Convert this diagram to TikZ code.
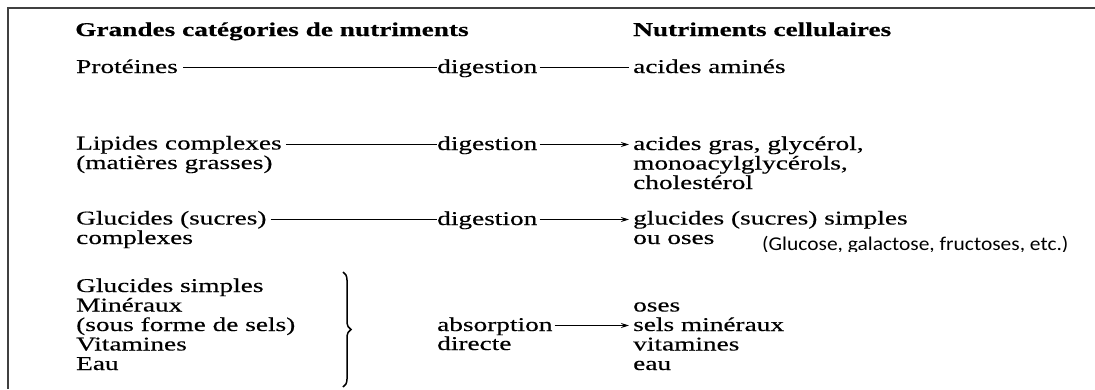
\documentclass[tikz,border=0pt]{standalone}
\usepackage{fontspec}
\setmainfont[FakeStretch=1.4, FakeBold=0.4]{Liberation Serif}
\newfontfamily\notefont[FakeStretch=1.1]{Carlito}
\usetikzlibrary{arrows.meta,decorations.pathreplacing}
\tikzset{
  txt/.style={inner sep=0pt, anchor=base west, align=left,
    font=\fontsize{19.5}{19.5}\selectfont},
  head/.style={txt, font=\fontsize{19.5}{19.5}\selectfont\bfseries},
  mid/.style={txt, text height=11pt, text depth=0pt},
  notetxt/.style={txt, font=\notefont\fontsize{19.5}{21}\selectfont},
  link/.style={line width=1.4pt},
  arrw/.style={link, -{Stealth[length=8pt, width=5pt]}},
  frame/.style={line width=2pt, draw=black!75},
}

\begin{document}
\begin{tikzpicture}[x=1pt, y=-1pt]
  \useasboundingbox (0,0) rectangle (1095,389);
  \draw[frame] (1095,8) -- (8,8) -- (8,389);

  % column heads
  \node[head] (hleft) at (75,36) {Grandes catégories de nutriments};
  \node[head] (hright) at (633,36) {Nutriments cellulaires};

  % proteines
  \node[txt] (prot) at (76,73) {Protéines};
  \node[mid] (dig1) at (437,73) {digestion};
  \node[txt] (aa) at (633,73) {acides aminés};

  % lipides (multi-line nodes sit on their last line)
  \node[txt] (lip) at (76,169) {Lipides complexes\\(matières grasses)};
  \node[mid] (dig2) at (437,150) {digestion};
  \node[txt] (ag) at (633,189)
    {acides gras, glycérol,\\monoacylglycérols,\\cholestérol};

  % glucides
  \node[txt] (gluc) at (76,244) {Glucides (sucres)\\complexes};
  \node[mid] (dig3) at (437,225) {digestion};
  \node[txt] (gs) at (633,244) {glucides (sucres) simples\\ou oses};
  \begin{scope}
    \clip (740,225) rectangle (1095,251);
    \node[notetxt] (note) at (762,250) {(Glucose, galactose, fructoses, etc.)};
  \end{scope}

  % absorption directe
  \node[txt] (simp) at (76,370)
    {Glucides simples\\Minéraux\\(sous forme de sels)\\Vitamines\\Eau};
  \node[mid] (abs) at (437,331) {absorption};
  \node[txt] (absd) at (437,350) {directe};
  \node[txt] (oses) at (633,370) {oses\\sels minéraux\\vitamines\\eau};

  \coordinate (btop) at (343,272);
  \coordinate (bbot) at (343,387);
  \draw[line width=1.5pt, decorate, decoration={brace, amplitude=8pt}]
    (btop) -- (bbot);

  \draw[link] ([xshift=5pt]prot.east |- dig1.west) -- (dig1.west);
  \draw[link] ([xshift=2pt]dig1.east) -- ([xshift=-4pt]dig1.east -| aa.west);
  \draw[link] ([xshift=4pt]lip.east |- dig2.west) -- (dig2.west);
  \draw[arrw] ([xshift=2pt]dig2.east) -- ([xshift=-4pt]dig2.east -| ag.west);
  \draw[link] ([xshift=4pt]gluc.east |- dig3.west) -- (dig3.west);
  \draw[arrw] ([xshift=2pt]dig3.east) -- ([xshift=-4pt]dig3.east -| gs.west);
  \draw[arrw] ([xshift=2pt]abs.east) -- ([xshift=-4pt]abs.east -| oses.west);
\end{tikzpicture}
\end{document}
